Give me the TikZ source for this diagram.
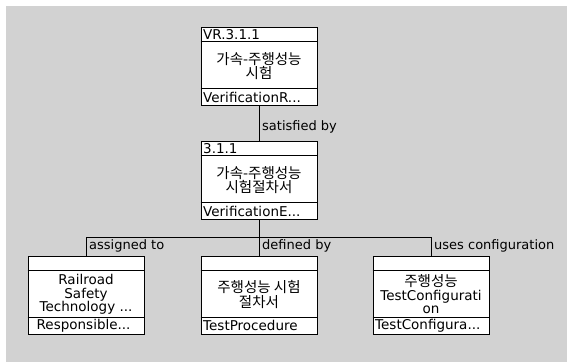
\documentclass[tikz,border=0pt]{standalone}
\usepackage{fontspec}
\setmainfont{DejaVu Sans}
\newfontfamily\kr{Noto Sans CJK KR}
\definecolor{bggray}{HTML}{D2D2D2}
\begin{document}
\begin{tikzpicture}[x=1pt,y=-1pt,
  box/.style={draw=black, fill=white, line width=1pt, minimum width=116pt, minimum height=78pt, inner sep=0pt},
  ln/.style={draw=black, line width=1pt},
  txt/.style={font=\fontsize{13.5}{13}\selectfont, inner sep=0pt, anchor=west},
  lbl/.style={font=\fontsize{13}{13}\selectfont, inner sep=0pt, anchor=west},
  bodytxt/.style={font=\fontsize{13.5}{13.5}\selectfont, inner sep=0pt, align=center},
  krtxt/.style={font=\kr\fontsize{14.5}{14.5}\selectfont, inner sep=0pt, align=center}
]
\useasboundingbox (0,0) rectangle (567,362);
\fill[bggray] (6,6) rectangle (567,362);

% boxes
\node[box] (vr) at (259,66.5) {};
\node[box] (pr) at (259,180.5) {};
\node[box] (rs) at (86,295) {};
\node[box] (tp) at (259,295) {};
\node[box] (tc) at (431,295) {};

% compartments
\foreach \b in {vr,pr,rs,tp,tc}{
  \draw[ln] ([yshift=-14.5pt]\b.north west) -- ([yshift=-14.5pt]\b.north east);
  \draw[ln] ([yshift=17.5pt]\b.south west) -- ([yshift=17.5pt]\b.south east);
}

% headers
\node[txt] (vrh) at ([xshift=2.5pt,yshift=-7.5pt]vr.north west) {VR.3.1.1};
\node[txt] (prh) at ([xshift=2.5pt,yshift=-7.5pt]pr.north west) {3.1.1};

% bodies
\node[krtxt] (vrb) at ([yshift=0.5pt]vr.center) {가속-주행성능\\시험};
\node[krtxt] (prb) at ([yshift=0.5pt]pr.center) {가속-주행성능\\시험절차서};
\node[bodytxt] (rsb) at ([yshift=0.5pt]rs.center) {Railroad\\Safety\\Technology ...};
\node[krtxt] (tpb) at ([yshift=0.5pt]tp.center) {주행성능 시험\\절차서};
\node[bodytxt] (tcb) at ([yshift=0.5pt]tc.center) {{\kr\fontsize{14.5}{14.5}\selectfont 주행성능}\\TestConfigurati\\on};

% attributes
\node[txt] (vra) at ([xshift=2.5pt,yshift=8.75pt]vr.south west) {VerificationR...};
\node[txt] (pra) at ([xshift=2.5pt,yshift=8.75pt]pr.south west) {VerificationE...};
\node[txt] (rsa) at ([xshift=9pt,yshift=8.75pt]rs.south west) {Responsible...};
\node[txt] (tpa) at ([xshift=2.5pt,yshift=8.75pt]tp.south west) {TestProcedure};
\node[txt] (tca) at ([xshift=2.5pt,yshift=8.75pt]tc.south west) {TestConfigura...};

% connectors
\coordinate (bus) at (0,237);
\draw[ln] (vr.south) -- (pr.north);
\draw[ln] (pr.south) -- (pr.south |- bus);
\draw[ln] (rs.north) -- (rs.north |- bus) -- (tc.north |- bus) -- (tc.north);
\draw[ln] (tp.north) -- (tp.north |- bus);

% labels
\node[lbl] (l1) at (262,127) {satisfied by};
\node[lbl] (l2) at (89,246) {assigned to};
\node[lbl] (l3) at (262,246) {defined by};
\node[lbl] (l4) at (434,246) {uses configuration};
\end{tikzpicture}
\end{document}
